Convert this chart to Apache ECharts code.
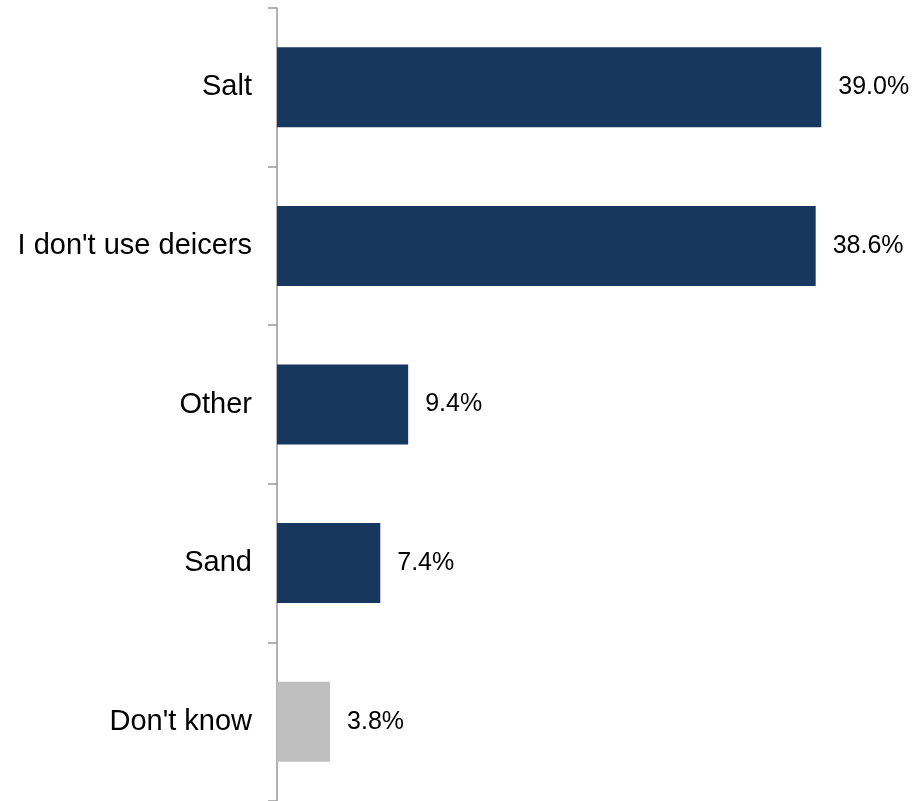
<!DOCTYPE html>
<html>
<head>
<meta charset="utf-8">
<script src="https://cdn.jsdelivr.net/npm/echarts@6/dist/echarts.min.js"></script>
<style>html,body{margin:0;padding:0;background:#fff;}#c{width:917px;height:801px;}</style>
</head>
<body>
<div id="c"></div>
<script>
const categories = ["Salt", "I don't use deicers", "Other", "Sand", "Don't know"];
const values = [39.0, 38.6, 9.4, 7.4, 3.8];
const barColors = ["#17375E", "#17375E", "#17375E", "#17375E", "#BFBFBF"];

const chart = echarts.init(document.getElementById('c'), null, {renderer: 'canvas'});
chart.setOption({
  animation: false,
  grid: {left: 277, right: 12, top: 8, bottom: 0, containLabel: false},
  xAxis: {type: 'value', min: 0, max: 45, show: false},
  yAxis: {
    type: 'category', inverse: true, data: categories,
    axisLine: {show: true, lineStyle: {color: '#999999', width: 1.5}},
    axisTick: {show: true, length: 9, lineStyle: {color: '#999999', width: 1.5}},
    axisLabel: {color: '#000', fontSize: 29, fontFamily: 'Liberation Sans, Arial, sans-serif', margin: 25}
  },
  series: [{
    type: 'bar', barWidth: 80,
    data: values.map((v, i) => ({value: v, itemStyle: {color: barColors[i]}})),
    label: {show: true, position: 'right', distance: 17, color: '#000', fontSize: 25,
      fontFamily: 'Liberation Sans, Arial, sans-serif',
      formatter: p => p.value.toFixed(1) + '%'}
  }]
});
</script>
</body>
</html>
